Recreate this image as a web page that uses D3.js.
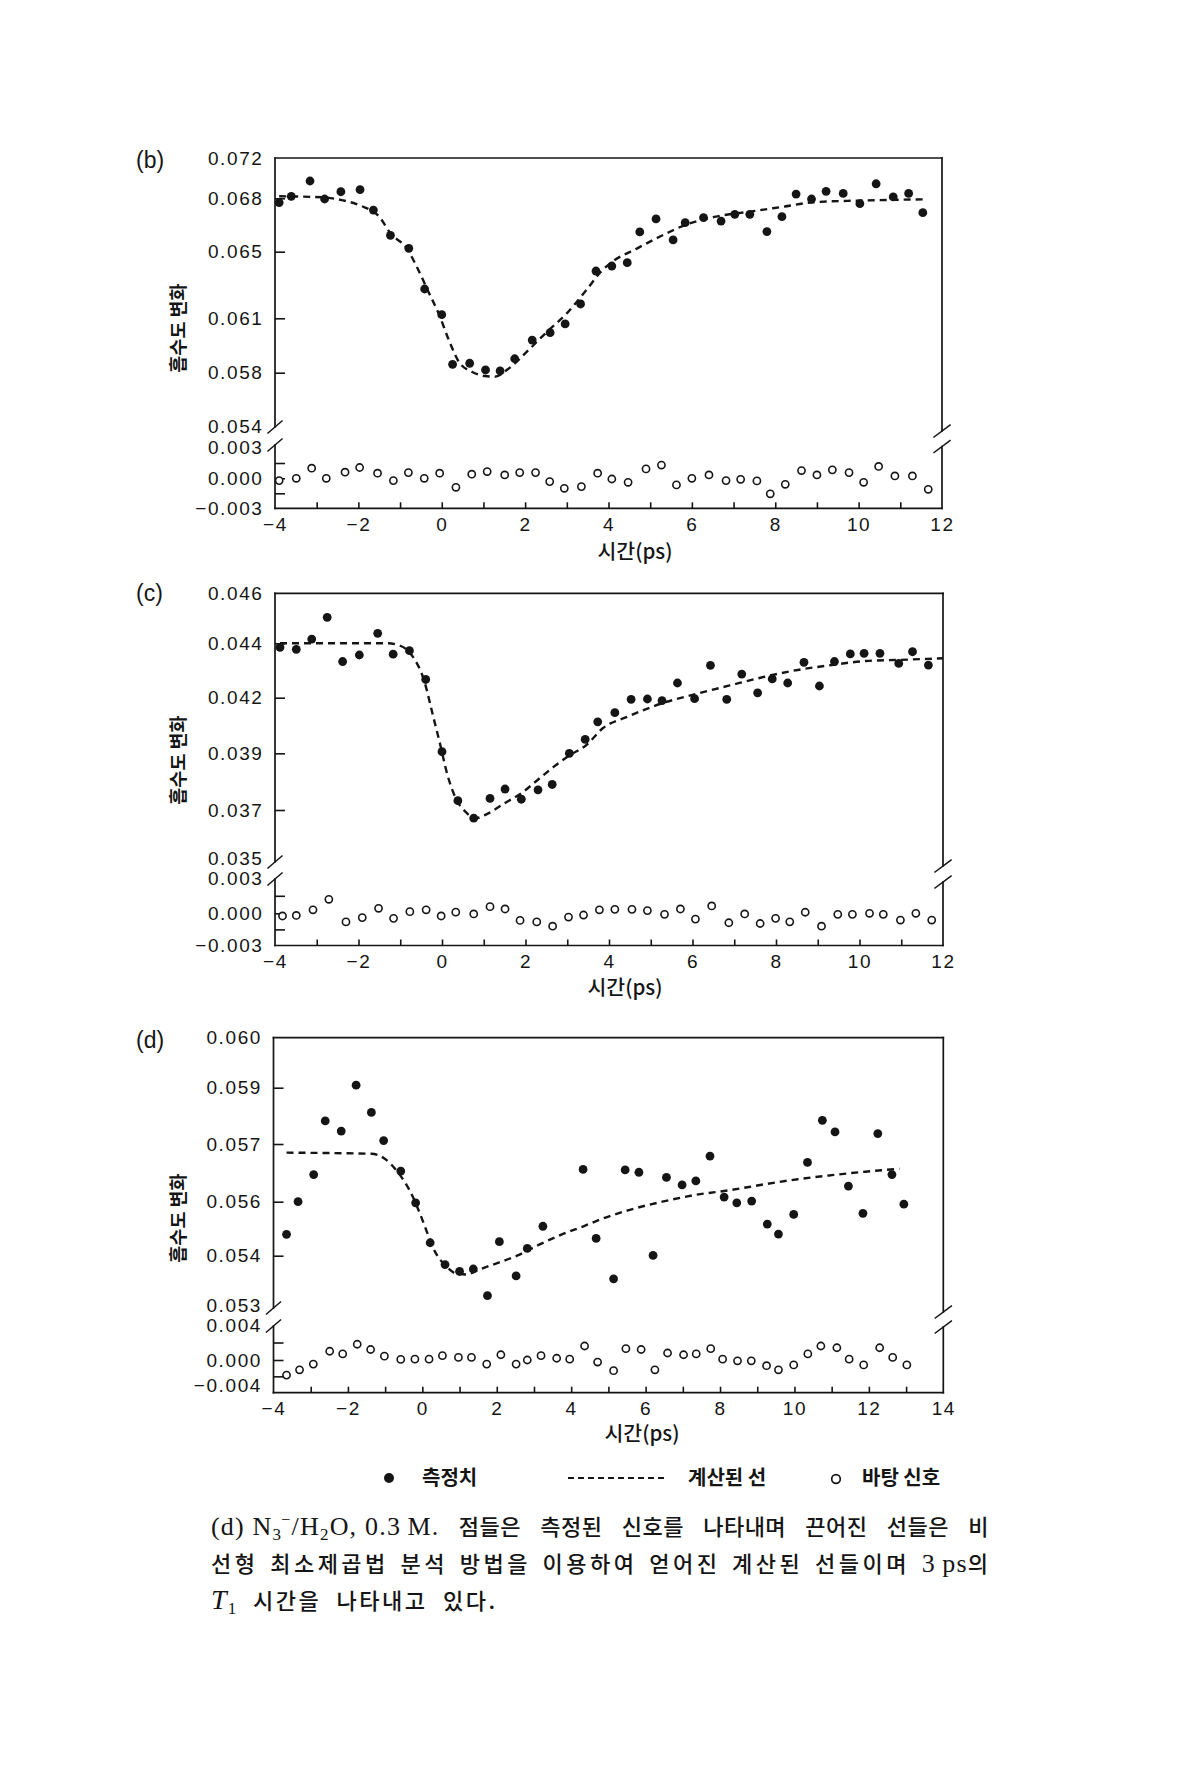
<!DOCTYPE html>
<html><head><meta charset="utf-8">
<script src="https://cdn.jsdelivr.net/npm/d3@7/dist/d3.min.js"></script>
<style>body{margin:0;background:#fff}</style>
</head><body>
<svg id="chart" width="1193" height="1767"></svg>
<script>
// ---------------- DATA ----------------
const panelNames = ["(b)", "(c)", "(d)"];
const xAxisTitle = "시간(ps)";
const yAxisTitle = "흡수도 변화";

// panel (b)
const bXDomain = [-4, 12];
const bUpperTicks = [0.054, 0.058, 0.061, 0.065, 0.068, 0.072];
const bUpperLabels = ["0.054", "0.058", "0.061", "0.065", "0.068", "0.072"];
const bLowerTicks = [-0.003, 0, 0.003];
const bLowerMinor = [-0.003, -0.0015, 0, 0.0015, 0.003];
const bLowerLabels = ["\u22120.003", "0.000", "0.003"];
const bTime = [-3.9,-3.61,-3.16,-2.81,-2.42,-1.96,-1.64,-1.23,-0.79,-0.41,0,0.26,0.67,1.05,1.4,1.75,2.17,2.6,2.96,3.33,3.7,4.08,4.45,4.75,5.14,5.55,5.84,6.28,6.7,7.03,7.39,7.8,8.16,8.5,8.87,9.22,9.63,10.03,10.42,10.83,11.2,11.54];
const bMeasured = [0.06776,0.0682,0.06974,0.06796,0.06866,0.06887,0.06734,0.06592,0.06519,0.06276,0.06122,0.05846,0.05852,0.05815,0.0581,0.05877,0.0598,0.06021,0.06069,0.06186,0.06384,0.06414,0.06434,0.06611,0.06684,0.06566,0.06663,0.06691,0.06672,0.0671,0.0671,0.06613,0.06697,0.06842,0.06796,0.0687,0.06849,0.0677,0.06946,0.06814,0.06849,0.06719];
const bBgTime = [-3.9,-3.49,-3.12,-2.77,-2.32,-1.97,-1.54,-1.16,-0.8,-0.42,-0.05,0.34,0.72,1.09,1.51,1.87,2.25,2.59,2.94,3.35,3.74,4.08,4.47,4.9,5.27,5.63,6.0,6.41,6.82,7.17,7.56,7.88,8.24,8.63,9.0,9.37,9.77,10.12,10.48,10.87,11.29,11.67];
const bBackground = [-0.00023,0,0.00099,0,0.0006,0.00106,0.0005,-0.00023,0.00056,0,0.0005,-0.0009,0.0004,0.00066,0.00033,0.00056,0.00056,-0.00033,-0.001,-0.00083,0.0005,-0.00007,-0.0004,0.00092,0.0013,-0.00066,0,0.00033,-0.00023,-0.0001,-0.00026,-0.00155,-0.0006,0.00076,0.00033,0.00083,0.00056,-0.0004,0.00116,0.00023,0.00023,-0.0011];
const bFitTime = [-3.9,-2.87,-2.4,-1.93,-1.5,-1.23,-0.84,-0.6,-0.34,-0.06,0.17,0.41,0.72,1.03,1.27,1.59,2.06,2.5,3.0,3.47,3.82,4.04,4.69,5.26,5.84,6.57,7.39,8.2,8.93,10.0,11.6];
const bFit = [0.0682,0.0681,0.0679,0.06757,0.06697,0.06603,0.06519,0.0641,0.0627,0.0612,0.0598,0.0586,0.05805,0.05775,0.0577,0.0582,0.0592,0.0602,0.0613,0.0627,0.0638,0.0643,0.06519,0.06588,0.0665,0.06697,0.06725,0.06753,0.06778,0.06787,0.06794];

// panel (c)
const cXDomain = [-4, 12];
const cUpperTicks = [0.035, 0.037, 0.039, 0.042, 0.044, 0.046];
const cUpperLabels = ["0.035", "0.037", "0.039", "0.042", "0.044", "0.046"];
const cLowerTicks = [-0.003, 0, 0.003];
const cLowerMinor = [-0.003, -0.0015, 0, 0.0015, 0.003];
const cLowerLabels = ["\u22120.003", "0.000", "0.003"];
const cTime = [-3.88,-3.49,-3.12,-2.75,-2.38,-1.98,-1.54,-1.17,-0.78,-0.39,0,0.38,0.76,1.15,1.51,1.9,2.3,2.64,3.05,3.43,3.73,4.14,4.53,4.92,5.27,5.64,6.05,6.43,6.82,7.18,7.56,7.91,8.28,8.67,9.04,9.4,9.78,10.11,10.49,10.94,11.27,11.65];
const cMeasured = [0.04385,0.04378,0.04417,0.04504,0.04333,0.04357,0.0444,0.0436,0.04373,0.04267,0.03909,0.03733,0.03666,0.03741,0.03774,0.03738,0.03771,0.0379,0.039,0.03975,0.0407,0.04119,0.04191,0.04193,0.04184,0.04254,0.04195,0.04319,0.04191,0.04287,0.04218,0.04269,0.04254,0.0433,0.04243,0.04333,0.04361,0.04363,0.04363,0.04326,0.04369,0.0432];
const cBgTime = [-3.82,-3.49,-3.09,-2.71,-2.3,-1.91,-1.52,-1.16,-0.77,-0.38,-0.02,0.33,0.76,1.15,1.51,1.87,2.27,2.65,3.03,3.39,3.77,4.14,4.55,4.92,5.33,5.71,6.07,6.46,6.87,7.25,7.62,7.99,8.33,8.7,9.09,9.48,9.83,10.24,10.57,10.98,11.35,11.73];
const cBackground = [-0.00025,-0.0002,0.0003,0.0012,-0.0008,-0.0004,0.00043,-0.00047,0.00014,0.0003,-0.00025,0.0001,-0.00006,0.00057,0.00037,-0.00066,-0.0008,-0.0012,-0.00035,-0.00016,0.0003,0.00034,0.00034,0.00023,-0.0001,0.00037,-0.00054,0.00063,-0.00088,-0.00006,-0.00095,-0.00047,-0.00079,0.00009,-0.0012,-0.0001,-0.0001,0,-0.0001,-0.00063,0,-0.00063];
const cFitTime = [-3.88,-1.3,-1.0,-0.7,-0.42,-0.22,-0.06,0.13,0.33,0.56,0.8,1.11,1.5,1.9,2.29,2.68,3.07,3.46,3.85,4.45,5.26,6.07,6.89,7.7,8.52,9.33,10.15,10.96,12.0];
const cFit = [0.044,0.044,0.04391,0.04351,0.04259,0.04107,0.03963,0.03824,0.03741,0.03693,0.03666,0.03686,0.03724,0.03759,0.03806,0.03853,0.03894,0.03945,0.04035,0.04098,0.04169,0.04213,0.04245,0.04276,0.04302,0.0432,0.04335,0.04339,0.04345];

// panel (d)
const dXDomain = [-4, 14];
const dUpperTicks = [0.053, 0.054, 0.056, 0.057, 0.059, 0.060];
const dUpperLabels = ["0.053", "0.054", "0.056", "0.057", "0.059", "0.060"];
const dLowerTicks = [-0.004, 0, 0.004];
const dLowerMinor = [-0.004, -0.002, 0, 0.002, 0.004];
const dLowerLabels = ["\u22120.004", "0.000", "0.004"];
const dTime = [-3.65,-3.34,-2.92,-2.61,-2.18,-1.78,-1.37,-1.04,-0.58,-0.18,0.21,0.61,1.0,1.37,1.75,2.07,2.52,2.82,3.24,4.32,4.67,5.14,5.45,5.82,6.2,6.56,6.98,7.35,7.73,8.11,8.45,8.85,9.27,9.57,9.98,10.35,10.75,11.09,11.45,11.84,12.24,12.62,12.94];
const dMeasured = [0.05479,0.056,0.05647,0.05782,0.05746,0.05905,0.05812,0.05712,0.05653,0.05596,0.05448,0.05382,0.05368,0.05373,0.05319,0.05452,0.05359,0.05427,0.05509,0.05656,0.05464,0.05353,0.05655,0.05651,0.05401,0.05642,0.05629,0.05636,0.05679,0.05608,0.05596,0.05601,0.05517,0.0548,0.05553,0.05668,0.05784,0.05743,0.05627,0.05557,0.05737,0.05647,0.05591];
const dBgTime = [-3.65,-3.3,-2.93,-2.49,-2.14,-1.75,-1.39,-1.02,-0.58,-0.2,0.18,0.54,0.97,1.32,1.73,2.11,2.52,2.82,3.19,3.61,3.96,4.36,4.71,5.14,5.47,5.88,6.25,6.59,7.02,7.36,7.75,8.07,8.47,8.84,9.25,9.57,9.98,10.36,10.71,11.14,11.47,11.86,12.29,12.64,13.02];
const dBackground = [-0.00185,-0.0012,-0.0005,0.001,0.0007,0.0018,0.0012,0.00044,0.00007,0.0001,0.0001,0.0005,0.0003,0.0003,-0.0005,0.0006,-0.0005,0,0.0005,0.0002,0.0001,0.0016,-0.00025,-0.0013,0.0013,0.0012,-0.0012,0.0008,0.0006,0.0007,0.0013,0.0001,-0.0001,-0.0001,-0.0007,-0.0012,-0.0006,0.0007,0.0016,0.0014,0.0001,-0.0006,0.0014,0.0003,-0.0006];
const dFitTime = [-3.65,-1.37,-1.02,-0.67,-0.32,-0.05,0.12,0.34,0.61,0.91,1.18,1.53,2.05,2.58,3.11,3.72,4.33,4.86,5.55,6.45,7.36,8.27,9.18,10.09,11.0,11.9,12.82];
const dFit = [0.05685,0.05683,0.05675,0.05652,0.05617,0.05551,0.05489,0.05415,0.05381,0.05364,0.05362,0.05372,0.05386,0.05402,0.05439,0.05477,0.05509,0.05538,0.05569,0.056,0.05612,0.0562,0.0563,0.05639,0.05646,0.05652,0.05657];

const legendLabels = ["측정치", "계산된 선", "바탕 신호"];

// ---------------- LAYOUT (pixels) ----------------
const layouts = [
  {left:275, right:942, top:158, bottom:508.3,
   upperPos:[426,372.7,318.3,251.7,198.3,158.5], lowerPos:[508.3,478.3,447.7],
   breakL:[427,445], breakR:[431,446.5], nameY:160, yTitleY:328, xTitleX:635, xTitleY:552, bottomLabelShift:0},
  {left:275, right:943, top:593.3, bottom:945.5,
   upperPos:[858.3,810,753.3,697.7,643.3,593.3], lowerPos:[945.5,913.3,878.3],
   breakL:[862,879], breakR:[866,882], nameY:593, yTitleY:760, xTitleX:625, xTitleY:988, bottomLabelShift:0},
  {left:273.5, right:943.3, top:1037.7, bottom:1392.7,
   upperPos:[1305,1255.7,1201.7,1144,1087.7,1037.7], lowerPos:[1392.7,1360,1325],
   breakL:[1308,1326], breakR:[1312,1327], nameY:1040, yTitleY:1218, xTitleX:642, xTitleY:1434, bottomLabelShift:-7}
];

const panels = [
  {name:panelNames[0], xDomain:bXDomain, upperTicks:bUpperTicks, upperLabels:bUpperLabels, lowerTicks:bLowerTicks, lowerMinor:bLowerMinor, lowerLabels:bLowerLabels,
   time:bTime, measured:bMeasured, bgTime:bBgTime, background:bBackground, fitTime:bFitTime, fit:bFit, layout:layouts[0]},
  {name:panelNames[1], xDomain:cXDomain, upperTicks:cUpperTicks, upperLabels:cUpperLabels, lowerTicks:cLowerTicks, lowerMinor:cLowerMinor, lowerLabels:cLowerLabels,
   time:cTime, measured:cMeasured, bgTime:cBgTime, background:cBackground, fitTime:cFitTime, fit:cFit, layout:layouts[1]},
  {name:panelNames[2], xDomain:dXDomain, upperTicks:dUpperTicks, upperLabels:dUpperLabels, lowerTicks:dLowerTicks, lowerMinor:dLowerMinor, lowerLabels:dLowerLabels,
   time:dTime, measured:dMeasured, bgTime:dBgTime, background:dBackground, fitTime:dFitTime, fit:dFit, layout:layouts[2]}
];

const INK = "#151515";
const tickFont = "'Liberation Sans', Arial, Helvetica, sans-serif";
const cjkFont = "'Noto Sans CJK KR', 'Noto Sans', sans-serif";
const serifFont = "'Liberation Serif', 'Times New Roman', serif";

const svg = d3.select("#chart");
svg.append("rect").attr("width",1193).attr("height",1767).attr("fill","#fff");

function seg(g, x1, y1, x2, y2, w) {
  g.append("line").attr("x1",x1).attr("y1",y1).attr("x2",x2).attr("y2",y2)
    .attr("stroke",INK).attr("stroke-width",w||1.7).attr("stroke-linecap","square");
}

function styleAxis(sel) {
  sel.select(".domain").remove();
  sel.selectAll(".tick line").attr("stroke",INK).attr("stroke-width",1.6);
  sel.selectAll(".tick text").attr("fill",INK).style("font-family",tickFont)
    .style("font-size","19px").style("letter-spacing","1.6px");
}

panels.forEach(p => {
  const L = p.layout;
  const g = svg.append("g");
  const x = d3.scaleLinear().domain(p.xDomain).range([L.left, L.right]);
  const yU = d3.scaleLinear().domain(p.upperTicks).range(L.upperPos);
  const yL = d3.scaleLinear().domain(p.lowerTicks).range(L.lowerPos);

  // frame with axis breaks
  seg(g, L.left, L.top, L.right, L.top);
  seg(g, L.left, L.bottom, L.right, L.bottom);
  seg(g, L.left, L.top, L.left, L.breakL[0]);
  seg(g, L.left, L.breakL[1], L.left, L.bottom);
  seg(g, L.right, L.top, L.right, L.breakR[0]);
  seg(g, L.right, L.breakR[1], L.right, L.bottom);
  L.breakL.forEach(yb => seg(g, L.left-7, yb+6, L.left+7, yb-6, 1.5));
  L.breakR.forEach(yb => seg(g, L.right-8, yb+6, L.right+8, yb-6, 1.5));

  // upper y axis
  const upLabel = new Map(p.upperTicks.map((v,i)=>[v,p.upperLabels[i]]));
  const ua = g.append("g").attr("transform",`translate(${L.left},0)`)
    .call(d3.axisLeft(yU).tickValues(p.upperTicks).tickSize(-10).tickPadding(11.5).tickFormat(v=>upLabel.get(v)));
  styleAxis(ua);
  ua.selectAll(".tick line").filter(v => v === p.upperTicks[0] || v === p.upperTicks[p.upperTicks.length-1]).remove();

  // lower y axis
  const lowLabel = new Map(p.lowerTicks.map((v,i)=>[v,p.lowerLabels[i]]));
  const la = g.append("g").attr("transform",`translate(${L.left},0)`)
    .call(d3.axisLeft(yL).tickValues(p.lowerMinor).tickSize(-10).tickPadding(11.5).tickFormat(v=>lowLabel.has(v)?lowLabel.get(v):""));
  styleAxis(la);
  la.selectAll(".tick line").filter(v => v === p.lowerTicks[p.lowerTicks.length-1] || v === p.lowerTicks[0]).remove();
  la.selectAll(".tick text").filter(v => v === p.lowerTicks[0]).attr("dy", (0.32*19 + L.bottomLabelShift) + "px");

  // x axis
  const xt = d3.range(p.xDomain[0], p.xDomain[1]+1, 1);
  const xa = g.append("g").attr("transform",`translate(0,${L.bottom})`)
    .call(d3.axisBottom(x).tickValues(xt).tickSize(-6).tickPadding(9).tickFormat(v => v % 2 === 0 ? d3.format("d")(v) : ""));
  styleAxis(xa);
  xa.selectAll(".tick line").filter(v => v === p.xDomain[0] || v === p.xDomain[1]).remove();

  // fit line
  const fitData = p.fitTime.map((t,i)=>[t,p.fit[i]]);
  g.append("path").datum(fitData)
    .attr("d", d3.line().x(d=>x(d[0])).y(d=>yU(d[1])).curve(d3.curveMonotoneX))
    .attr("fill","none").attr("stroke",INK).attr("stroke-width",2.4).attr("stroke-dasharray","7,5");

  // measured points
  g.selectAll(".m").data(p.time.map((t,i)=>[t,p.measured[i]])).join("circle")
    .attr("cx",d=>x(d[0])).attr("cy",d=>yU(d[1])).attr("r",4.4).attr("fill",INK);

  // background signal
  g.selectAll(".bg").data(p.bgTime.map((t,i)=>[t,p.background[i]])).join("circle")
    .attr("cx",d=>x(d[0])).attr("cy",d=>yL(d[1])).attr("r",3.6)
    .attr("fill","#fff").attr("stroke",INK).attr("stroke-width",1.6);

  // panel name
  g.append("text").attr("x",136).attr("y",L.nameY+8).text(p.name)
    .attr("fill",INK).style("font-family",tickFont).style("font-size","23px");

  // y title
  g.append("text").attr("transform",`translate(${185},${L.yTitleY}) rotate(-90)`)
    .attr("text-anchor","middle").text(yAxisTitle)
    .attr("fill",INK).style("font-family",cjkFont).style("font-size","18.5px").style("font-weight","700");

  // x title
  g.append("text").attr("x",L.xTitleX).attr("y",L.xTitleY+7).attr("text-anchor","middle").text(xAxisTitle)
    .attr("fill",INK).style("font-family",cjkFont).style("font-size","20.5px").style("font-weight","500");
});

// ---------------- LEGEND ----------------
const lg = svg.append("g");
const ly = 1478;
lg.append("circle").attr("cx",389).attr("cy",ly).attr("r",5).attr("fill",INK);
lg.append("text").attr("x",422).attr("y",ly+7).text(legendLabels[0]);
lg.append("line").attr("x1",568).attr("x2",667).attr("y1",ly).attr("y2",ly)
  .attr("stroke",INK).attr("stroke-width",2.2).attr("stroke-dasharray","6,4");
lg.append("text").attr("x",688).attr("y",ly+7).text(legendLabels[1]);
lg.append("circle").attr("cx",836).attr("cy",ly+1).attr("r",4.3).attr("fill","#fff").attr("stroke",INK).attr("stroke-width",1.7);
lg.append("text").attr("x",862).attr("y",ly+7).text(legendLabels[2]);
lg.selectAll("text").attr("fill",INK).style("font-family",cjkFont).style("font-size","20px").style("font-weight","700");

// ---------------- CAPTION ----------------
const cap = svg.append("g").attr("fill",INK);
const KO = (sel, ls) => sel.style("font-family",cjkFont).style("font-size","22px").style("font-weight","500").style("letter-spacing",ls+"px");
const LA = (sel, size) => sel.style("font-family",serifFont).style("font-size",size+"px").style("letter-spacing","1.2px");
function justify(textSel, target) {
  const node = textSel.node();
  textSel.style("word-spacing","0px");
  const w = node.getComputedTextLength();
  const n = (node.textContent.match(/ /g) || []).length;
  if (n > 0) textSel.style("word-spacing", Math.max(0, (target - w) / n) + "px");
}

const l1 = cap.append("text").attr("x",211).attr("y",1535);
LA(l1.append("tspan"),26).text("(d)\u2005N");
LA(l1.append("tspan"),17).attr("dy",5).text("3");
LA(l1.append("tspan"),16).attr("dx",-1).attr("dy",-15).text("\u2212");
LA(l1.append("tspan"),26).attr("dy",10).text("/H");
LA(l1.append("tspan"),17).attr("dy",5).text("2");
LA(l1.append("tspan"),26).attr("dy",-5).text("O,\u20050.3\u2009M.");
KO(l1.append("tspan"),0.5).text(" 점들은 측정된 신호를 나타내며 끈어진 선들은 비");
justify(l1, 779);

const l2 = cap.append("text").attr("x",211).attr("y",1572);
KO(l2.append("tspan"),3.5).text("선형 최소제곱법 분석 방법을 이용하여 얻어진 계산된 선들이며 ");
LA(l2.append("tspan"),26).text("3\u2009ps");
KO(l2.append("tspan"),0).text("의");
justify(l2, 777);

const l3 = cap.append("text").attr("x",211).attr("y",1609).style("word-spacing","8px");
LA(l3.append("tspan"),28).style("font-style","italic").text("T");
LA(l3.append("tspan"),17).attr("dy",5).text("1");
KO(l3.append("tspan"),2.5).attr("dy",-5).text(" 시간을 나타내고 있다.");
</script>
</body></html>
